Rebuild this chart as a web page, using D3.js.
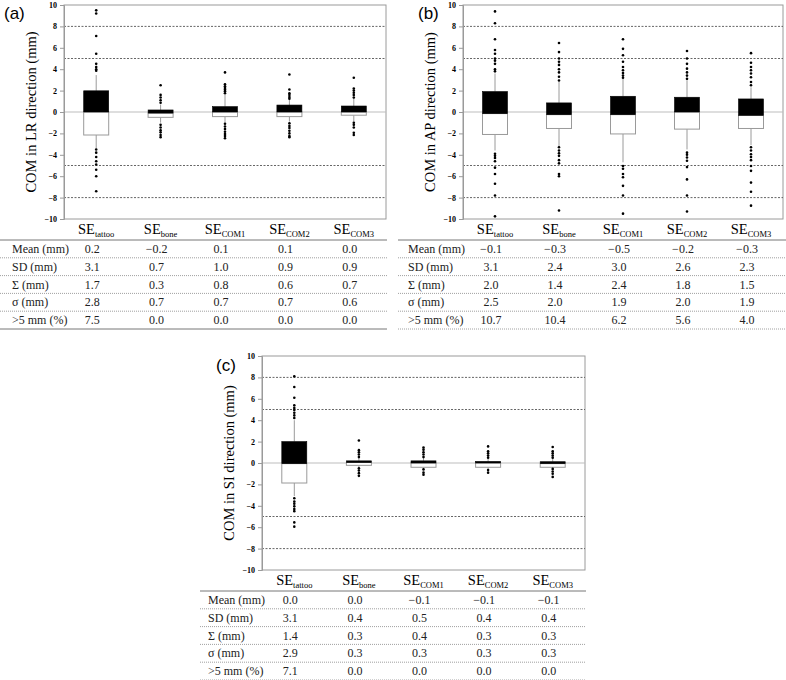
<!DOCTYPE html>
<html><head><meta charset="utf-8">
<script src="https://cdn.jsdelivr.net/npm/d3@7"></script>
<style>body{margin:0;background:#fff} svg{display:block} text{font-family:"Liberation Serif","Times New Roman",serif}</style>
</head><body>
<svg id="chart" width="786" height="680"></svg>
<script>
// ---------- data ----------
const categories = ["tattoo", "bone", "COM1", "COM2", "COM3"];
const rowLabels = ["Mean (mm)", "SD (mm)", "\u03A3 (mm)", "\u03C3 (mm)", ">5 mm (%)"];
const yTicks = [-10, -8, -6, -4, -2, 0, 2, 4, 6, 8, 10];
const guideValues = [-8, -5, 5, 8];

// (a) LR direction
const q1A  = [-2.15, -0.5, -0.43, -0.43, -0.3];
const medA = [0.0, -0.1, 0.0, 0.0, 0.0];
const q3A  = [1.98, 0.19, 0.5, 0.65, 0.56];
const loA  = [-3.4, -1.0, -1.0, -0.9, -0.9];
const hiA  = [3.45, 0.7, 1.6, 1.2, 1.3];
const outA = [
  [3.85, 4.0, 4.2, 4.5, 5.45, 7.1, 9.2, 9.5, -3.5, -3.8, -4.2, -4.6, -4.9, -5.4, -6.0, -7.4],
  [0.87, 1.1, 1.35, 1.6, 2.5, -1.2, -1.45, -1.7, -1.9, -2.15, -2.35],
  [1.75, 1.95, 2.1, 2.25, 2.4, 2.6, 3.7, -1.1, -1.35, -1.6, -1.85, -2.05, -2.25, -2.45],
  [1.25, 1.4, 1.6, 1.75, 2.1, 3.5, -1.05, -1.3, -1.5, -1.75, -2.0, -2.25, -2.35],
  [1.35, 1.6, 1.8, 2.0, 2.2, 3.2, -1.0, -1.2, -1.45, -1.95, -2.15]
];
const statsA = [[0.2, -0.2, 0.1, 0.1, 0.0], [3.1, 0.7, 1.0, 0.9, 0.9], [1.7, 0.3, 0.8, 0.6, 0.7], [2.8, 0.7, 0.7, 0.7, 0.6], [7.5, 0.0, 0.0, 0.0, 0.0]];

// (b) AP direction
const q1B  = [-2.1, -1.54, -2.05, -1.6, -1.54];
const medB = [-0.15, -0.25, -0.25, 0.0, -0.31];
const q3B  = [1.91, 0.85, 1.47, 1.38, 1.22];
const loB  = [-3.6, -3.2, -4.7, -3.5, -3.1];
const hiB  = [3.6, 2.8, 3.1, 2.95, 2.3];
const outB = [
  [3.8, 4.0, 4.5, 4.8, 5.0, 5.45, 5.8, 6.8, 8.3, 9.4, -3.9, -4.1, -4.3, -4.6, -5.2, -5.8, -6.7, -7.8, -9.75],
  [2.95, 3.3, 3.7, 4.0, 4.4, 4.7, 5.0, 5.6, 6.45, -3.3, -3.6, -3.85, -4.1, -4.5, -4.8, -5.8, -6.0, -9.2],
  [3.2, 3.4, 3.65, 3.9, 4.2, 4.7, 5.3, 5.9, 6.8, -5.05, -5.3, -5.8, -6.1, -6.9, -7.8, -9.5],
  [3.1, 3.4, 3.7, 4.05, 4.5, 5.0, 5.7, -3.8, -4.0, -4.25, -4.55, -5.15, -6.3, -7.8, -9.3],
  [2.5, 2.8, 3.25, 3.6, 3.9, 4.2, 4.6, 5.5, -3.3, -3.6, -3.95, -4.2, -4.5, -5.05, -5.5, -6.6, -7.45, -8.75]
];
const statsB = [[-0.1, -0.3, -0.5, -0.2, -0.3], [3.1, 2.4, 3.0, 2.6, 2.3], [2.0, 1.4, 2.4, 1.8, 1.5], [2.5, 2.0, 1.9, 2.0, 1.9], [10.7, 10.4, 6.2, 5.6, 4.0]];

// (c) SI direction
const q1C  = [-1.87, -0.22, -0.4, -0.4, -0.4];
const medC = [-0.06, 0.05, 0.0, 0.0, -0.06];
const q3C  = [2.0, 0.2, 0.2, 0.15, 0.12];
const loC  = [-3.1, -0.4, -0.5, -0.55, -0.5];
const hiC  = [4.0, 0.45, 0.45, 0.4, 0.4];
const outC = [
  [4.2, 4.45, 4.7, 4.95, 5.15, 5.4, 6.1, 7.1, 8.1, -3.3, -3.6, -3.8, -4.05, -4.3, -4.5, -5.55, -5.95],
  [0.55, 0.8, 1.0, 1.2, 2.1, -0.5, -0.7, -0.95, -1.2],
  [0.55, 0.8, 1.0, 1.25, 1.45, -0.6, -0.9, -1.1],
  [0.5, 0.7, 0.9, 1.1, 1.55, -0.65, -0.9],
  [0.5, 0.7, 0.9, 1.1, 1.5, -0.55, -0.8, -1.0, -1.3]
];
const statsC = [[0.0, 0.0, -0.1, -0.1, -0.1], [3.1, 0.4, 0.5, 0.4, 0.4], [1.4, 0.3, 0.4, 0.3, 0.3], [2.9, 0.3, 0.3, 0.3, 0.3], [7.1, 0.0, 0.0, 0.0, 0.0]];

// ---------- layout ----------
const panels = [
  {letter: "(a)", title: "COM in LR direction (mm)", q1: q1A, med: medA, q3: q3A, lo: loA, hi: hiA, out: outA, stats: statsA,
   x0: 64, x1: 386, y0: 5, y1: 219, lx: 4, ly: 19, tx0: 0, tx1: 387, labX: 12, bottomSolid: true},
  {letter: "(b)", title: "COM in AP direction (mm)", q1: q1B, med: medB, q3: q3B, lo: loB, hi: hiB, out: outB, stats: statsB,
   x0: 463, x1: 783, y0: 5, y1: 219, lx: 418, ly: 19, tx0: 398, tx1: 786, labX: 408, bottomSolid: false},
  {letter: "(c)", title: "COM in SI direction (mm)", q1: q1C, med: medC, q3: q3C, lo: loC, hi: hiC, out: outC, stats: statsC,
   x0: 262, x1: 585, y0: 356, y1: 570, lx: 216, ly: 371, tx0: 200, tx1: 586, labX: 208, bottomSolid: false}
];

const svg = d3.select("#chart");
const serif = "'Liberation Serif','Times New Roman',serif";
const sans = "'Liberation Sans',Arial,sans-serif";
const fmt = v => v.toFixed(1).replace("-", "\u2212");

panels.forEach(p => {
  const g = svg.append("g");
  const x = d3.scaleBand().domain(categories).range([p.x0, p.x1]);
  const y = d3.scaleLinear().domain([-10, 10]).range([p.y1, p.y0]);
  const bw = 25;

  g.append("rect").attr("x", p.x0).attr("y", p.y0).attr("width", p.x1 - p.x0).attr("height", p.y1 - p.y0)
    .attr("fill", "none").attr("stroke", "#9a9a9a").attr("stroke-width", 1);

  g.selectAll(".guide").data(guideValues).join("line")
    .attr("x1", p.x0).attr("x2", p.x1).attr("y1", d => y(d)).attr("y2", d => y(d))
    .attr("stroke", "#555").attr("stroke-width", 0.9).attr("stroke-dasharray", "2,1.5");
  g.append("line").attr("x1", p.x0).attr("x2", p.x1).attr("y1", y(0)).attr("y2", y(0))
    .attr("stroke", "#bdbdbd").attr("stroke-width", 1.2);

  const ax = g.append("g").attr("transform", `translate(${p.x0},0)`)
    .call(d3.axisLeft(y).tickValues(yTicks).tickSize(4).tickPadding(3).tickFormat(d3.format("d")));
  ax.select(".domain").attr("stroke", "#9a9a9a");
  ax.selectAll(".tick line").attr("stroke", "#9a9a9a");
  ax.selectAll(".tick text").attr("font-family", serif).style("font-family", serif)
    .attr("font-weight", "bold").attr("font-size", 8).attr("fill", "#000");

  g.append("text").attr("transform", `translate(${p.x0 - 33},${(p.y0 + p.y1) / 2}) rotate(-90)`)
    .attr("text-anchor", "middle").attr("dominant-baseline", "central")
    .attr("font-size", 14.5).text(p.title);

  g.append("text").attr("x", p.lx).attr("y", p.ly).style("font-family", sans).attr("font-size", 17).text(p.letter);

  categories.forEach((c, i) => {
    const cx = x(c) + x.bandwidth() / 2;
    g.append("line").attr("x1", cx).attr("x2", cx).attr("y1", y(p.q3[i])).attr("y2", y(p.hi[i]))
      .attr("stroke", "#9a9a9a").attr("stroke-width", 1);
    g.append("line").attr("x1", cx).attr("x2", cx).attr("y1", y(p.q1[i])).attr("y2", y(p.lo[i]))
      .attr("stroke", "#9a9a9a").attr("stroke-width", 1);
    g.append("rect").attr("x", cx - bw / 2).attr("width", bw)
      .attr("y", y(p.med[i])).attr("height", y(p.q1[i]) - y(p.med[i]))
      .attr("fill", "#fff").attr("stroke", "#9a9a9a").attr("stroke-width", 1);
    g.append("rect").attr("x", cx - bw / 2).attr("width", bw)
      .attr("y", y(p.q3[i])).attr("height", Math.max(1, y(p.med[i]) - y(p.q3[i])))
      .attr("fill", "#000").attr("stroke", "#000").attr("stroke-width", 0.6);
    g.selectAll(null).data(p.out[i]).join("circle")
      .attr("cx", cx).attr("cy", d => y(d)).attr("r", 1.3).attr("fill", "#000");

    const hy = p.y1 + 15;
    const t = g.append("text").attr("x", cx).attr("y", hy).attr("text-anchor", "middle")
      .attr("font-size", 14.5).attr("fill", "#000");
    t.append("tspan").text("SE");
    t.append("tspan").attr("dy", 3).attr("font-size", 8.5).text(c);

    p.stats.forEach((row, r) => {
      g.append("text").attr("x", cx - 4).attr("y", p.y1 + 21 + r * 17.8 + 13)
        .attr("text-anchor", "middle").attr("font-size", 12)
        .attr("fill", "#222").text(fmt(row[i]));
    });
  });

  const tTop = p.y1 + 21;
  g.append("line").attr("x1", p.tx0).attr("x2", p.tx1).attr("y1", tTop).attr("y2", tTop)
    .attr("stroke", "#777").attr("stroke-width", 1);
  rowLabels.forEach((lab, r) => {
    g.append("text").attr("x", p.labX).attr("y", tTop + r * 17.8 + 13)
      .attr("font-size", 12).attr("fill", "#222").text(lab);
    const ly = tTop + (r + 1) * 17.8;
    const last = r === rowLabels.length - 1;
    g.append("line").attr("x1", p.tx0).attr("x2", p.tx1).attr("y1", ly).attr("y2", ly)
      .attr("stroke", last && p.bottomSolid ? "#777" : "#888").attr("stroke-width", last && p.bottomSolid ? 1 : 0.8)
      .attr("stroke-dasharray", last && p.bottomSolid ? null : "1,1");
  });
});
</script>
</body></html>
